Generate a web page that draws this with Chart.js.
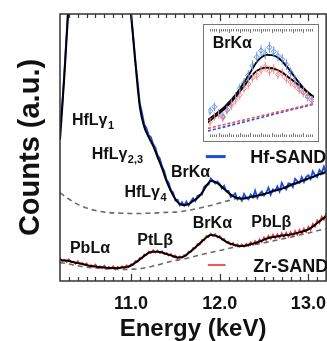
<!DOCTYPE html>
<html><head><meta charset="utf-8">
<script src="https://cdn.jsdelivr.net/npm/chart.js@4/dist/chart.umd.min.js"></script>
<style>
html,body{margin:0;padding:0;background:#fff;overflow:hidden;}
#wrap{position:relative;width:330px;height:350px;}
#main{position:absolute;left:0;top:0;}
#inset{position:absolute;left:203px;top:24px;}
</style></head><body>
<div id="wrap">
<canvas id="main" width="330" height="350"></canvas>
<canvas id="inset" width="116" height="118"></canvas>
</div>
<script>
// ---------- DATA ----------
const xTickValues = [11.0, 12.0, 13.0];
const dataEnergy = [10.2,10.225,10.25,10.275,10.3,10.325,10.35,10.375,10.4,10.425,10.45,10.475,10.5,10.525,10.55,10.575,10.6,10.625,10.65,10.675,10.7,10.725,10.75,10.775,10.8,10.825,10.85,10.875,10.9,10.925,10.95,10.975,
11.0,11.025,11.05,11.075,11.1,11.125,11.15,11.175,11.2,11.225,11.25,11.275,11.3,11.325,11.35,11.375,11.4,11.425,11.45,11.475,11.5,11.525,11.55,11.575,11.6,11.625,11.65,11.675,11.7,11.725,11.75,11.775,11.8,11.825,11.85,11.875,11.9,11.925,11.95,11.975,
12.0,12.025,12.05,12.075,12.1,12.125,12.15,12.175,12.2,12.225,12.25,12.275,12.3,12.325,12.35,12.375,12.4,12.425,12.45,12.475,12.5,12.525,12.55,12.575,12.6,12.625,12.65,12.675,12.7,12.725,12.75,12.775,12.8,12.825,12.85,12.875,12.9,12.925,12.95,12.975,
13.0,13.025,13.05,13.075,13.1,13.125,13.15,13.175,13.2];
const hfData = [58,66,79,93,108,122,135,140,140,140,140,140,140,140,140,140,140,140,140,140,140,140,140,140,140,140,140,140,140,138,130,115,
101,92,82.5,74.8,66.5,62.9,58.6,57.3,54.6,53.8,51.3,50.0,47.1,45.9,42.9,41.3,38.0,36.8,34.0,33.2,30.1,30.45,28.4,29.55,28.2,29.75,28.3,29.8,31.0,29.95,31.9,32.25,32.3,35.3,35.9,36.15,38.4,37.5,36.5,37.25,
36.3,34.65,35.7,33.55,33.8,31.4,32.0,32.85,30.6,31.4,30.1,32.6,31.2,30.6,32.4,31.35,33.8,31.1,32.7,33.5,32.0,33.1,34.9,32.35,34.3,33.7,35.4,33.55,36.8,35.1,34.3,36.6,36.4,35.15,38.3,37.4,36.7,38.95,37.1,39.0,
39.6,38.2,41.1,39.65,38.9,41.6,40.5,42.85,40.4];
const zrData = [8.6,7.4,8.0,7.1,8.2,7.0,7.3,6.4,7.5,6.4,6.8,5.9,6.7,5.3,6.0,5.4,6.2,4.9,5.5,4.7,5.8,4.5,5.3,4.6,5.6,4.3,5.3,4.7,5.6,4.6,5.9,5.2,
6.3,6.0,7.5,7.2,8.7,8.4,10.0,9.6,11.1,10.5,11.6,10.6,11.5,10.5,11.2,10.0,10.6,9.5,10.2,8.9,9.6,8.5,9.3,8.7,9.8,9.5,11.1,10.8,12.4,12.2,13.9,13.6,15.4,15.2,16.9,16.4,17.8,16.8,17.6,16.3,
16.9,15.4,15.8,14.4,14.8,13.6,14.3,13.1,13.8,12.8,13.8,12.8,14.0,13.2,14.6,13.5,15.0,13.9,15.7,14.6,16.4,15.2,17.0,15.7,17.4,16.0,17.6,16.2,17.9,16.4,18.2,16.6,18.4,16.9,18.8,17.3,19.2,17.7,19.7,18.3,
20.4,19.1,21.5,20.3,22.8,21.6,24.2,22.9,25.5];
const fitEnergy = [10.2,10.25,10.3,10.35,10.4,10.45,10.5,10.55,10.6,10.65,10.7,10.75,10.8,10.85,10.9,10.95,
11.0,11.05,11.1,11.15,11.2,11.25,11.3,11.35,11.4,11.45,11.5,11.55,11.6,11.65,11.7,11.75,11.8,11.85,11.9,11.95,
12.0,12.05,12.1,12.15,12.2,12.25,12.3,12.35,12.4,12.45,12.5,12.55,12.6,12.65,12.7,12.75,12.8,12.85,12.9,12.95,
13.0,13.05,13.1,13.15,13.2];
const hfFit = [52.8,77.2,105,140,150,150,150,150,150,150,150,150,150,150,140,120,
100,81.6,65.2,57.7,53.9,50.6,46.4,42.3,37.5,33.7,30.7,28.8,28.5,28.8,30.0,31.1,33.0,35.6,37.5,37.1,
36.0,34.5,33.0,31.8,31.1,30.9,31.1,31.5,31.8,32.2,32.6,33.0,33.7,34.1,34.6,35.2,36.0,36.5,37.1,37.8,
38.4,39.0,39.7,40.3,40.8];
const zrFit = [7.9,7.7,7.5,7.1,6.7,6.4,6.0,5.6,5.4,5.2,5.1,4.9,4.9,4.9,5.1,5.2,
5.8,6.9,8.1,9.4,10.5,11.0,11.0,10.7,10.1,9.6,9.0,8.8,9.2,10.5,11.8,13.3,14.8,16.3,17.2,17.0,
16.3,15.2,14.2,13.7,13.2,13.1,13.3,13.8,14.2,14.8,15.5,16.1,16.5,16.7,17.0,17.2,17.4,17.8,18.2,18.7,
19.3,20.4,21.7,23.0,24.3];
const baseEnergy = [10.2,10.3,10.4,10.5,10.6,10.7,10.8,10.9,11.0,11.1,11.2,11.3,11.4,11.5,11.6,11.7,11.8,11.9,12.0,12.1,12.2,12.3,12.4,12.5,12.6,12.7,12.8,12.9,13.0,13.1,13.2];
const hfBase = [33.0,30.7,28.7,27.3,26.4,25.8,25.5,25.4,25.3,25.3,25.4,25.5,25.7,25.8,26.2,26.8,27.5,28.3,29.2,30.1,30.9,30.9,31.5,32.3,33.4,34.3,35.7,36.8,38.1,39.4,40.5];
const zrBase = [6.9,6.4,5.7,5.2,4.9,4.6,4.4,4.3,4.4,4.6,5.2,6.0,6.9,7.7,8.3,9.1,9.9,10.7,11.4,12.2,12.9,13.2,13.7,14.3,15.0,15.7,16.4,17.2,18.0,18.8,19.6];

// inset (BrKα region)
const insetFitEnergy = [11.7,11.725,11.75,11.775,11.8,11.825,11.85,11.875,11.9,11.925,11.95,11.975,12.0,12.025,12.05,12.075,12.1,12.125,12.15,12.175,12.2];
const hfInsetFit = [16.0,19.5,23.5,27.4,32.5,38.0,44.5,52.0,60.0,68.0,73.5,76.0,75.8,74.0,70.0,64.5,58.0,51.5,45.5,40.5,37.0];
const zrInsetFit = [13.5,17.5,21.5,25.6,30.5,36.0,42.0,48.5,55.0,60.5,63.3,64.2,63.8,62.3,59.8,56.0,52.3,48.5,44.8,40.8,37.0];
const insetBaseEnergy = [11.7,12.2];
const hfInsetBase = [5.5,30.5];
const zrInsetBase = [8.0,31.0];
const insetDataEnergy = [11.71,11.73,11.75,11.77,11.79,11.81,11.83,11.85,11.87,11.89,11.91,11.93,11.95,11.97,11.99,12.01,12.03,12.05,12.07,12.09,12.11,12.13,12.15,12.17,12.19];
const hfInsetData = [24,28,22,19,25,31,37,45,50,57,66,74,80,77,83,79,75,72,67,60,53,47,42,37,34];
const zrInsetData = [14,19,21,18,25,29,34,39,45,49,55,57,62,65,61,63,58,59,54,51,48,44,41,38,34];
const hfInsetErr = [4,4,4,4,4,4.5,4.5,4.5,4.5,5,5,5,5,5,5,5,5,5,5,4.5,4.5,4.5,4.5,4,4];
const zrInsetErr = [4,4,4,4,4,4,4,4.5,4.5,4.5,4.5,4.5,4.5,4.5,4.5,4.5,4.5,4.5,4.5,4.5,4,4,4,4,4];

// annotation text: [main, subscript, energy, counts]
const peakLabels = [
  ['HfL\u03b3', '1', 10.334, 58.4],
  ['HfL\u03b3', '2,3', 10.558, 45.7],
  ['HfL\u03b3', '4', 10.926, 31.5],
  ['BrK\u03b1', '', 11.451, 39.0],
  ['BrK\u03b1', '', 11.697, 19.9],
  ['PbL\u03b2', '', 12.356, 20.2],
  ['PbL\u03b1', '', 10.312, 10.5],
  ['PtL\u03b2', '', 11.072, 13.5]
];
const seriesNames = ['Hf-SAND', 'Zr-SAND'];

// ---------- STYLE ----------
const FONT = "'Liberation Sans', Arial, Helvetica, sans-serif";
const BLUE = 'rgb(25,75,230)';
const RED = 'rgb(238,55,55)';
const pts = (xs, ys) => xs.map((x, i) => ({x: x, y: ys[i]}));

const mainFrame = {
  id: 'mainFrame',
  afterDatasetsDraw(chart) {
    const ctx = chart.ctx, a = chart.chartArea, x = chart.scales.x;
    ctx.save();
    ctx.strokeStyle = '#333';
    ctx.lineWidth = 1.5;
    ctx.strokeRect(a.left, a.top, a.right - a.left, a.bottom - a.top);
    ctx.lineWidth = 1.2;
    ctx.beginPath();
    for (let k = 103; k <= 131; k++) {
      const px = Math.round(x.getPixelForValue(k / 10)) + 0.5;
      const len = (k % 10 === 0) ? 7 : 4;
      ctx.moveTo(px, a.bottom); ctx.lineTo(px, a.bottom - len);
      ctx.moveTo(px, a.top); ctx.lineTo(px, a.top + len);
    }
    ctx.stroke();
    ctx.restore();
  },
  afterDraw(chart) {
    const ctx = chart.ctx, x = chart.scales.x, y = chart.scales.y;
    ctx.save();
    ctx.fillStyle = '#111';
    ctx.textBaseline = 'alphabetic';
    peakLabels.forEach(l => {
      const px = x.getPixelForValue(l[2]), py = y.getPixelForValue(l[3]);
      ctx.font = 'bold 16px ' + FONT;
      ctx.fillText(l[0], px, py);
      if (l[1]) {
        const w = ctx.measureText(l[0]).width;
        ctx.font = 'bold 11px ' + FONT;
        ctx.fillText(l[1], px + w + 0.5, py + 4);
      }
    });
    // legend
    const leg = [[BLUE, 3, 11.844, 12.067, 46.6, 12.345, 44.2], ['rgb(240,90,90)', 2, 11.866, 12.067, 6.0, 12.379, 3.4]];
    leg.forEach((g, i) => {
      ctx.strokeStyle = g[0]; ctx.lineWidth = g[1];
      ctx.beginPath();
      ctx.moveTo(x.getPixelForValue(g[2]), y.getPixelForValue(g[4]));
      ctx.lineTo(x.getPixelForValue(g[3]), y.getPixelForValue(g[4]));
      ctx.stroke();
      ctx.font = 'bold 18px ' + FONT;
      ctx.fillText(seriesNames[i], x.getPixelForValue(g[5]), y.getPixelForValue(g[6]));
    });
    ctx.restore();
  }
};

new Chart(document.getElementById('main'), {
  type: 'line',
  data: { datasets: [
    { data: pts(fitEnergy, hfFit), borderColor: '#000', borderWidth: 2, cubicInterpolationMode: 'monotone', order: 0 },
    { data: pts(fitEnergy, zrFit), borderColor: '#000', borderWidth: 2, cubicInterpolationMode: 'monotone', order: 0 },
    { data: pts(dataEnergy, hfData), borderColor: BLUE, borderWidth: 1.8, tension: 0, order: 1 },
    { data: pts(dataEnergy, zrData), borderColor: RED, borderWidth: 1.5, tension: 0, order: 1 },
    { data: pts(baseEnergy, hfBase), borderColor: '#6a6a6a', borderWidth: 1.6, borderDash: [5, 4], cubicInterpolationMode: 'monotone', order: 2 },
    { data: pts(baseEnergy, zrBase), borderColor: '#6a6a6a', borderWidth: 1.6, borderDash: [5, 4], cubicInterpolationMode: 'monotone', order: 2 }
  ]},
  options: {
    responsive: false, animation: false, devicePixelRatio: 1,
    layout: { padding: { left: 0, right: 1.5, top: 14, bottom: 0 } },
    elements: { point: { radius: 0 } },
    plugins: { legend: { display: false }, tooltip: { enabled: false } },
    scales: {
      x: {
        type: 'linear', min: 10.2, max: 13.2,
        afterBuildTicks: s => { s.ticks = xTickValues.map(v => ({ value: v })); },
        afterFit: s => { s.height = 69; },
        grid: { display: false }, border: { display: false },
        ticks: { color: '#111', font: { family: FONT, size: 18, weight: 'bold' }, padding: 4, maxRotation: 0, autoSkip: false, callback: v => Number(v).toFixed(1) },
        title: { display: true, text: 'Energy (keV)', color: '#111', font: { family: FONT, size: 24, weight: 'bold', lineHeight: 1 }, padding: { top: 0, bottom: 9 } }
      },
      y: {
        min: 0, max: 100,
        afterFit: s => { s.width = 60; },
        grid: { display: false }, border: { display: false },
        ticks: { display: false },
        title: { display: true, text: 'Counts (a.u.)', color: '#111', font: { family: FONT, size: 29, weight: 'bold', lineHeight: 1 }, padding: { top: 16, bottom: 0 } }
      }
    }
  },
  plugins: [mainFrame]
});

// ---------- INSET ----------
const insetFrame = {
  id: 'insetFrame',
  beforeDraw(chart) {
    const ctx = chart.ctx;
    ctx.save(); ctx.fillStyle = '#fff'; ctx.fillRect(0, 0, chart.width, chart.height); ctx.restore();
  },
  afterDatasetsDraw(chart) {
    const ctx = chart.ctx, x = chart.scales.x, y = chart.scales.y, a = chart.chartArea;
    ctx.save();
    chart.data.datasets.forEach(ds => {
      if (!ds.errorBars) return;
      ctx.strokeStyle = ds.borderColor; ctx.lineWidth = 1;
      ctx.beginPath();
      ds.data.forEach((p, i) => {
        const px = x.getPixelForValue(p.x);
        ctx.moveTo(px, y.getPixelForValue(p.y - ds.errorBars[i]));
        ctx.lineTo(px, y.getPixelForValue(p.y + ds.errorBars[i]));
      });
      ctx.stroke();
    });
    ctx.strokeStyle = '#777'; ctx.lineWidth = 1;
    ctx.strokeRect(0.5, 0.5, chart.width - 1, chart.height - 1);
    ctx.beginPath();
    for (let k = 1171; k <= 1219; k++) {
      const px = Math.round(x.getPixelForValue(k / 100)) + 0.5;
      const len = (k % 5 === 0) ? 4 : 2.5;
      ctx.moveTo(px, a.bottom); ctx.lineTo(px, a.bottom - len);
      ctx.moveTo(px, a.top); ctx.lineTo(px, a.top + len);
    }
    ctx.stroke();
    ctx.fillStyle = '#111';
    ctx.font = 'bold 16px ' + FONT;
    ctx.fillText('BrK\u03b1', x.getPixelForValue(11.722), y.getPixelForValue(82));
    ctx.restore();
  }
};

new Chart(document.getElementById('inset'), {
  type: 'line',
  data: { datasets: [
    { data: pts(insetFitEnergy, hfInsetFit), borderColor: '#000', borderWidth: 1.8, cubicInterpolationMode: 'monotone', pointRadius: 0, order: 0 },
    { data: pts(insetFitEnergy, zrInsetFit), borderColor: '#000', borderWidth: 1.8, cubicInterpolationMode: 'monotone', pointRadius: 0, order: 0 },
    { data: pts(insetDataEnergy, hfInsetData), showLine: false, pointStyle: 'rectRot', pointRadius: 2.6, borderWidth: 1, borderColor: 'rgb(95,145,240)', backgroundColor: 'rgba(255,255,255,0)', errorBars: hfInsetErr, order: 1 },
    { data: pts(insetDataEnergy, zrInsetData), showLine: false, pointStyle: 'rectRot', pointRadius: 2.6, borderWidth: 1, borderColor: 'rgb(245,135,135)', backgroundColor: 'rgba(255,255,255,0)', errorBars: zrInsetErr, order: 1 },
    { data: pts(insetBaseEnergy, zrInsetBase), borderColor: 'rgb(240,80,80)', borderWidth: 1.6, borderDash: [3, 2], pointRadius: 0, order: 2 },
    { data: pts(insetBaseEnergy, hfInsetBase), borderColor: 'rgb(40,80,230)', borderWidth: 1.6, borderDash: [3, 2], pointRadius: 0, order: 2 }
  ]},
  options: {
    responsive: false, animation: false, devicePixelRatio: 1,
    layout: { padding: 0 },
    plugins: { legend: { display: false }, tooltip: { enabled: false } },
    scales: {
      x: { type: 'linear', min: 11.7, max: 12.2, display: false },
      y: { min: 0, max: 100, display: false }
    }
  },
  plugins: [insetFrame]
});
</script>
</body></html>
